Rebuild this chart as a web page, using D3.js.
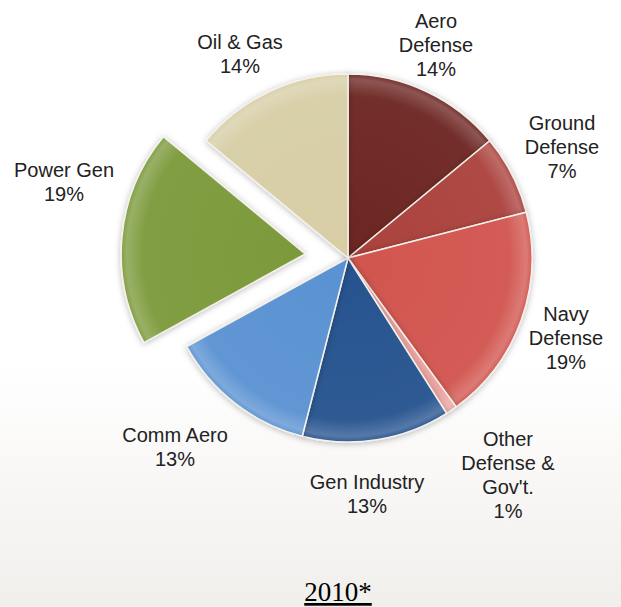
<!DOCTYPE html>
<html>
<head>
<meta charset="utf-8">
<script src="https://cdn.jsdelivr.net/npm/d3@7"></script>
<style>
  body { margin: 0; background: #fff; }
  svg { display: block; }
</style>
</head>
<body>
<div id="chart"></div>
<script>
const width = 621;
const height = 607;

// Segment data, clockwise from 12 o'clock
const segments = ["Aero Defense", "Ground Defense", "Navy Defense", "Other Defense & Gov't.", "Gen Industry", "Comm Aero", "Power Gen", "Oil & Gas"];
const shares = [14, 7, 19, 1, 13, 13, 19, 14];
const labelLines = [
  ["Aero", "Defense", "14%"],
  ["Ground", "Defense", "7%"],
  ["Navy", "Defense", "19%"],
  ["Other", "Defense &", "Gov't.", "1%"],
  ["Gen Industry", "13%"],
  ["Comm Aero", "13%"],
  ["Power Gen", "19%"],
  ["Oil & Gas", "14%"]
];
const colors = ["#6d2824", "#ab433d", "#d2544f", "#eca3a0", "#28538f", "#5a92d2", "#7b9a3a", "#d7cea6"];
const exploded = ["Power Gen"];
const title = "2010*";

// label anchor points (centre of the text block)
const labelPos = [
  [436, 45], [562, 147], [566, 338], [508, 475],
  [367, 494], [175, 447], [64, 182], [240, 54]
];

const cx = 348, cy = 258, radius = 184, explodeBy = 43;

const svg = d3.select("#chart").append("svg").attr("width", width).attr("height", height);
const defs = svg.append("defs");

const bg = defs.append("linearGradient").attr("id", "bg").attr("x1", 0).attr("y1", 0).attr("x2", 0).attr("y2", 1);
bg.append("stop").attr("offset", "0.6").attr("stop-color", "#ffffff");
bg.append("stop").attr("offset", "1").attr("stop-color", "#f1efec");
svg.append("rect").attr("width", width).attr("height", height).attr("fill", "url(#bg)");

const shadow = defs.append("filter").attr("id", "shadow").attr("x", "-20%").attr("y", "-20%").attr("width", "140%").attr("height", "140%");
shadow.append("feDropShadow").attr("dx", 0).attr("dy", 1).attr("stdDeviation", 3).attr("flood-color", "#000").attr("flood-opacity", 0.28);

// soft rim shading on each slice
const shade = defs.append("radialGradient").attr("id", "shade")
  .attr("gradientUnits", "userSpaceOnUse").attr("cx", 0).attr("cy", 0).attr("r", radius);
shade.append("stop").attr("offset", "0").attr("stop-color", "#fff").attr("stop-opacity", 0);
shade.append("stop").attr("offset", "0.88").attr("stop-color", "#fff").attr("stop-opacity", 0.04);
shade.append("stop").attr("offset", "0.97").attr("stop-color", "#fff").attr("stop-opacity", 0.22);
shade.append("stop").attr("offset", "1").attr("stop-color", "#fff").attr("stop-opacity", 0.05);

const data = segments.map((s, i) => ({ name: s, value: shares[i], color: colors[i], lines: labelLines[i], pos: labelPos[i] }));

const pie = d3.pie().sort(null).value(d => d.value);
const arc = d3.arc().innerRadius(0).outerRadius(radius);
const arcs = pie(data);

const g = svg.append("g").attr("transform", `translate(${cx},${cy})`);

const slice = g.selectAll("g.slice")
  .data(arcs)
  .join("g")
  .attr("class", "slice")
  .attr("transform", d => {
    if (!exploded.includes(d.data.name)) return null;
    const mid = (d.startAngle + d.endAngle) / 2;
    return `translate(${Math.sin(mid) * explodeBy},${-Math.cos(mid) * explodeBy})`;
  });

slice.append("path")
  .attr("d", arc)
  .attr("fill", d => d.data.color)
  .attr("stroke", "#f4f0ea")
  .attr("stroke-width", 1.5)
  .attr("filter", "url(#shadow)");

slice.append("path")
  .attr("d", arc)
  .attr("fill", "url(#shade)")
  .attr("stroke", "none");

// labels
const lineH = 24;
const labels = svg.append("g")
  .attr("font-family", "'Liberation Sans', Arial, sans-serif")
  .attr("font-size", 20)
  .attr("fill", "#222")
  .attr("text-anchor", "middle");

data.forEach(d => {
  const n = d.lines.length;
  const t = labels.append("text")
    .attr("x", d.pos[0])
    .attr("y", d.pos[1] - (n - 1) * lineH / 2)
    .attr("dominant-baseline", "central");
  d.lines.forEach((line, i) => {
    t.append("tspan").attr("x", d.pos[0]).attr("dy", i === 0 ? 0 : lineH).text(line);
  });
});

svg.append("text")
  .attr("x", 338)
  .attr("y", 601)
  .attr("text-anchor", "middle")
  .attr("font-family", "'Liberation Serif', 'Times New Roman', serif")
  .attr("font-size", 27)
  .attr("fill", "#000")
  .attr("text-decoration", "underline")
  .text(title);
</script>
</body>
</html>
